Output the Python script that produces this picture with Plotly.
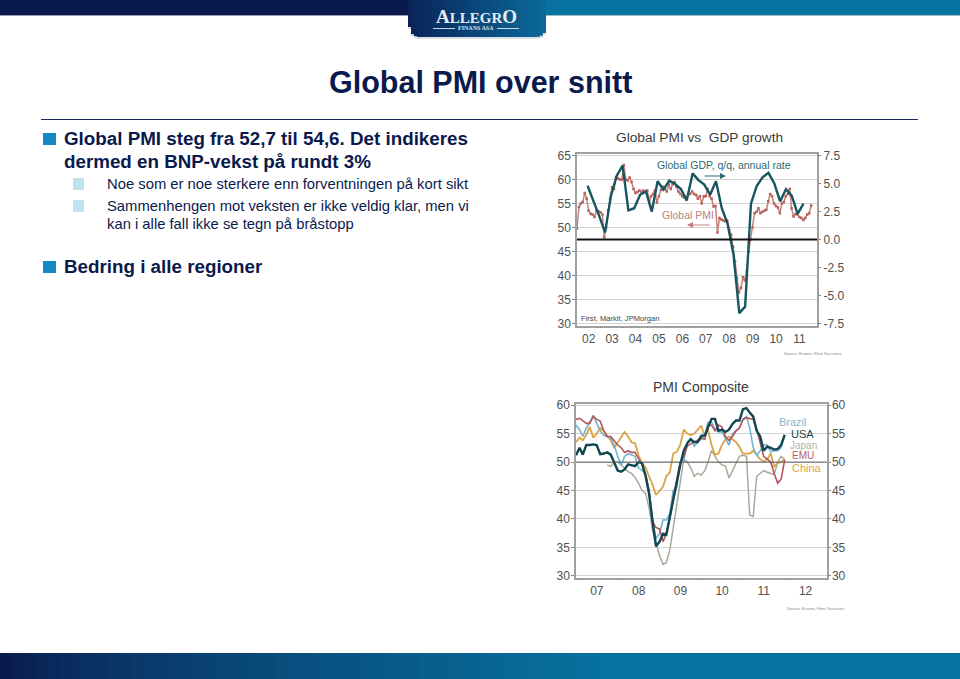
import plotly.graph_objects as go
import pandas as pd

W, H = 960, 679

# ---------- data ----------
pmi_global = [
 49.8,54.3,55.0,55.3,57.2,56.0,53.5,52.9,52.7,52.2,53.5,53.4,
 53.2,52.7,48.0,50.0,53.6,56.0,58.4,58.0,60.4,60.2,60.0,60.0,
 63.0,60.0,59.8,60.4,59.5,58.0,57.2,57.4,57.7,57.4,57.7,57.4,
 57.7,55.5,56.5,57.0,57.7,55.2,56.5,57.8,58.5,58.0,57.5,59.0,
 58.0,59.0,59.5,58.5,57.5,57.0,56.5,56.2,55.8,57.0,57.0,57.5,
 57.0,56.8,56.0,56.5,55.0,56.5,56.5,58.0,56.5,56.0,54.4,54.5,
 49.0,52.0,51.7,51.5,51.3,51.5,49.5,48.5,46.0,43.0,39.5,36.5,
 37.5,39.7,39.0,41.0,45.0,47.5,50.0,53.0,53.3,54.0,53.0,53.3,
 53.5,53.7,55.5,57.0,56.5,55.0,54.5,54.2,53.0,55.0,55.3,56.5,
 57.0,58.0,54.0,52.3,52.8,52.7,52.2,52.0,51.6,52.0,52.7,53.0,54.6]
gdp_growth = [
 4.8,3.5,2.1,0.65,3.9,5.7,6.6,2.6,2.8,4.0,4.3,2.5,5.2,4.45,5.25,4.95,4.5,3.5,5.9,5.3,
 4.9,4.0,5.2,2.8,1.4,-1.3,-6.55,-5.97,3.2,4.8,5.55,5.95,5.0,3.4,4.5,3.9,2.3,3.2]
brazil = [
 56.5,55.7,54.5,56,57,58.2,56.8,55.5,54.7,54.5,54.2,53,
 51,49.5,51,51.5,51.3,51,49,48.5,48,45,40,36.5,
 37.5,39.8,39.8,41,45,45.5,50,50.2,53.5,54.2,52.8,53.5,
 54,54.6,57,57,55.8,55.3,55.3,54,53,55,55.5,56,
 57.5,58,56,52.5,51.2,52,53,53,51.8,52,52,52.5,54.8]
usa = [
 51.2,52.5,51.3,53,53,53.1,53,51.4,51.5,51.7,51.3,50,
 48.5,48.3,48.7,49.6,49.4,49.3,50,49.8,47.5,44.5,39.5,35.2,
 36,37.4,37.2,40.5,43.5,46.5,49.5,52,53.3,54,53.5,53.5,
 54.6,54.7,56,57.6,57.6,55.5,55.7,55.3,55.7,56.7,57.3,57.3,
 59.3,59.5,58.7,58,55.5,54.5,52,52.7,52.5,52.2,52.3,53,54.8]
emu = [
 57.5,57.7,57.3,56.8,56.8,58,57.5,57.2,55.5,54.5,54.5,53.8,
 53,52.5,51.7,52,51.7,51.7,50.5,49.5,47.7,45,39.5,38.5,
 38.2,36,37.5,40,43.7,47,50,51,52.8,53.2,53.5,53.8,
 54.2,54,56.5,56.5,55.5,56.5,56.2,54.5,53.8,54.5,55.5,56,
 57.5,57.8,57.7,57.5,55.8,53.3,51,50.5,50,48,46.3,47,50.4]
china = [
 53.5,54.3,53.8,54.8,56.2,54.3,55,56,55.5,54.7,53.8,52.5,
 53.5,54.5,55.3,54.5,53.5,53.3,51.2,49.8,49,47.5,46,44.2,
 45,45.7,47.5,48.2,51.5,51.8,53,55.7,55,54.7,55,55.7,
 56.4,54.5,55.7,53,51.3,51.5,53,54,54.5,54,53.5,52.7,
 51.5,51.5,51.5,52,51.2,50.5,50,50.5,51.5,49.2,49.8,50,50.5]
japan = [
 None,None,None,None,None,None,None,None,None,49.5,49.2,50,
 50,49.5,49,48.3,48,47.3,46.3,45,44.5,42,38,36,
 33.5,32,32.3,34.5,38.5,43,47,50.5,50,49,47.5,48,
 47.7,48.5,50,52,51,50,49.5,49.3,47.2,48.5,49.8,51,
 51.2,51,40.7,40.4,47.5,48,48.5,48.2,48,47.8,50,51,50.5]

pmi_months = pd.date_range("2002-01-01", periods=len(pmi_global), freq="MS")
gdp_quarters = pd.date_range("2002-06-15", periods=len(gdp_growth), freq="91D")
comp_months = pd.date_range("2007-01-01", periods=len(usa), freq="MS")

left_ticks_1 = [30, 35, 40, 45, 50, 55, 60, 65]
right_ticks_1 = [-7.5, -5.0, -2.5, 0.0, 2.5, 5.0, 7.5]
ticks_2 = [30, 35, 40, 45, 50, 55, 60]

NAVY = "#0a1a4c"
TEAL = "#07719f"
FONT = "Liberation Sans"


def fx(x):
    return x / W


def fy(y):
    return 1 - y / H


def lerp(c1, c2, t):
    a = [int(c1[i:i + 2], 16) for i in (1, 3, 5)]
    b = [int(c2[i:i + 2], 16) for i in (1, 3, 5)]
    return "#%02x%02x%02x" % tuple(round(p + (q - p) * t) for p, q in zip(a, b))


shapes, annotations = [], []


def rect(x0, y0, x1, y1, color):
    shapes.append(dict(type="rect", xref="paper", yref="paper", layer="below",
                       x0=fx(x0), x1=fx(x1), y0=fy(y0), y1=fy(y1),
                       fillcolor=color, line=dict(width=0)))


def text(x, y, s, size, color=NAVY, anchor="left", bold=False, family=FONT):
    annotations.append(dict(xref="paper", yref="paper", x=fx(x), y=fy(y), text=f"<b>{s}</b>" if bold else s,
                            showarrow=False, xanchor=anchor, yanchor="middle", borderpad=0,
                            font=dict(size=size, color=color, family=family)))


# header
rect(0, 0, 410, 15, NAVY)
rect(545, 0, 960, 15, TEAL)
rect(0, 15, 408, 16, "#9aa0b0")
rect(545, 15, 960, 16, "#9fb9c6")
for x in range(408, 546, 3):
    t = (x - 408) / 137
    r = 10
    inset = 0
    if x < 408 + r:
        inset = r - (r ** 2 - (408 + r - x) ** 2) ** 0.5
    if x > 545 - r:
        inset = r - (r ** 2 - (x - 545 + r) ** 2) ** 0.5
    rect(x, 36 - inset + 1.5, x + 3, 36 - inset + 2.5, "#b9bfc8")
    rect(x, 0, x + 3, 37 - inset, lerp("#0a2459", "#0a6a9c", t))
text(476, 16.5, '<span style="font-size:19px">A</span>LLEGR<span style="font-size:19px">O</span>', 15, "#e6edf2", "center", bold=True, family="Liberation Serif")
text(476, 28.5, "FINANS ASA", 6, "#d6e2ea", "center", bold=True, family="Liberation Serif")
rect(433, 28, 455, 29, "#c6d6e2")
rect(497, 28, 519, 29, "#c6d6e2")

# footer
for x in range(0, 960, 12):
    rect(x, 653, x + 12, 679, lerp(NAVY, TEAL, min(1, (x / 600)) ** 0.7))

# title + rule
text(480, 82, "Global PMI over snitt", 30.5, NAVY, "center", bold=True)
rect(41, 119, 918, 120, "#1c2a5c")

# bullets
rect(43, 133, 56, 145, "#1489c4")
rect(43, 261, 56, 273, "#1489c4")
rect(73, 178, 84, 190, "#bfe3ee")
rect(73, 200, 84, 212, "#bfe3ee")
text(63, 139, "Global PMI steg fra 52,7 til 54,6. Det indikeres", 18.8, NAVY, bold=True)
text(63, 161, "dermed en BNP-vekst på rundt 3%", 18.8, NAVY, bold=True)
text(106, 184, "Noe som er noe sterkere enn forventningen på kort sikt", 14.8, NAVY)
text(106, 206, "Sammenhengen mot veksten er ikke veldig klar, men vi", 14.8, NAVY)
text(106, 224, "kan i alle fall ikke se tegn på bråstopp", 14.8, NAVY)
text(63, 267, "Bedring i alle regioner", 18.8, NAVY, bold=True)

# chart text
text(699.5, 138, "Global PMI vs  GDP growth", 13.7, "#3a3a3a", "center")
text(701, 387, "PMI Composite", 14, "#3a3a3a", "center")
text(656, 165, "Global GDP, q/q, annual rate", 10.5, "#2f6a70")
text(661, 215, "Global PMI", 10.5, "#c08080")
text(580, 318, "First, Markit, JPMorgan", 7.6, "#444444")
text(783, 353, "Source: Ecowin, Fleet Securities", 4, "#888888")
text(786, 608, "Source: Ecowin, Fleet Securities", 4, "#888888")
text(778, 422, "Brazil", 11, "#7fb6d2")
text(790, 434, "USA", 11, "#17484f")
text(789, 445, "Japan", 10, "#b5b3a4")
text(791, 456, "EMU", 10, "#b86060")
text(791, 468, "China", 11, "#dca548")

for x0, x1, y, c in [(703, 726, 176, "#2f6a70"), (711, 687, 225, "#c08080")]:
    annotations.append(dict(xref="paper", yref="paper", axref="pixel", ayref="pixel",
                            x=fx(x1), y=fy(y), ax=x0 - x1, ay=0, text="", showarrow=True,
                            arrowhead=2, arrowsize=1, arrowwidth=1.2, arrowcolor=c))

fig = go.Figure()
fig.add_trace(go.Scatter(x=pmi_months, y=pmi_global, xaxis="x", yaxis="y", mode="lines+markers",
                         line=dict(color="#c8837a", width=1.5), marker=dict(color="#b8605f", size=2.5, symbol="square")))
fig.add_trace(go.Scatter(x=gdp_quarters, y=gdp_growth, xaxis="x", yaxis="y2", mode="lines",
                         line=dict(color="#17565e", width=2.4)))
for vals, color, width in [(japan, "#aaa899", 1.5), (china, "#d9a444", 1.8), (brazil, "#72b3d2", 1.6),
                           (emu, "#b5565c", 1.6), (usa, "#0f4650", 2.4)]:
    fig.add_trace(go.Scatter(x=comp_months, y=vals, xaxis="x2", yaxis="y3", mode="lines",
                             line=dict(color=color, width=width), connectgaps=False))
fig.add_trace(go.Scatter(x=comp_months[:1], y=[50], xaxis="x2", yaxis="y4", mode="lines",
                         line=dict(width=0), hoverinfo="skip"))

# reference lines on the axes
shapes.append(dict(type="line", xref="x domain", yref="y", x0=0, x1=1, y0=47.5, y1=47.5,
                   line=dict(color="#111111", width=2), layer="above"))
shapes.append(dict(type="line", xref="x2 domain", yref="y3", x0=0, x1=1, y0=50, y1=50,
                   line=dict(color="rgba(90,90,90,0.8)", width=1.3), layer="above"))

tickfont = dict(size=12, color="#505050", family=FONT)
frame = dict(showline=True, linecolor="#a0a0a0", linewidth=1.5, mirror=True)
r1 = [29.65, 65.4]
to_right = lambda v: (v - 47.5) * 7.5 / 17.5

fig.update_layout(
    width=W, height=H, margin=dict(l=0, r=0, t=0, b=0, pad=0, autoexpand=False), autosize=False,
    paper_bgcolor="white", plot_bgcolor="white", showlegend=False,
    shapes=shapes, annotations=annotations,
    xaxis=dict(domain=[fx(577), fx(817)], anchor="y", type="date", range=["2002-01-01", "2012-04-01"],
               dtick="M12", tick0="2002-01-01", tickformat="%y", ticklabelmode="period",
               ticks="outside", ticklen=1, tickcolor="#888888", showgrid=False, tickfont=tickfont, **frame),
    yaxis=dict(domain=[fy(325.5), fy(153.5)], range=r1, tickvals=left_ticks_1, ticks="outside", ticklen=3,
               ticklabelstandoff=-1,
               tickcolor="#888888", gridcolor="#d2d2d2", gridwidth=1, zeroline=False, tickfont=tickfont, **frame),
    yaxis2=dict(domain=[fy(325.5), fy(153.5)], anchor="x", overlaying="y", side="right",
                range=[to_right(r1[0]), to_right(r1[1])], tickvals=right_ticks_1,
                ticktext=[f"{v:.1f}" for v in right_ticks_1], ticks="outside", ticklen=3,
                tickcolor="#888888", showgrid=False, zeroline=False, tickfont=tickfont),
    xaxis2=dict(domain=[fx(576), fx(826.5)], anchor="y3", type="date", range=["2007-01-01", "2013-01-01"],
                dtick="M12", tick0="2007-01-01", tickformat="%y", ticklabelmode="period",
                ticks="outside", ticklen=1, tickcolor="#888888", showgrid=False, tickfont=tickfont, **frame),
    yaxis3=dict(domain=[fy(577.5), fy(403.5)], anchor="x2", range=[29.7, 60.3], tickvals=ticks_2, ticks="outside",
                ticklabelstandoff=-1,
                ticklen=3, tickcolor="#888888", gridcolor="#d2d2d2", zeroline=False, tickfont=tickfont, **frame),
    yaxis4=dict(domain=[fy(577.5), fy(403.5)], anchor="x2", overlaying="y3", side="right", range=[29.7, 60.3],
                tickvals=ticks_2, ticks="outside", ticklen=3, tickcolor="#888888", showgrid=False,
                ticklabelstandoff=-1,
                zeroline=False, tickfont=tickfont),
)
fig.write_html("out.html", config={"displayModeBar": False},
               post_script="document.body.style.margin='0';document.body.style.overflow='hidden';")
